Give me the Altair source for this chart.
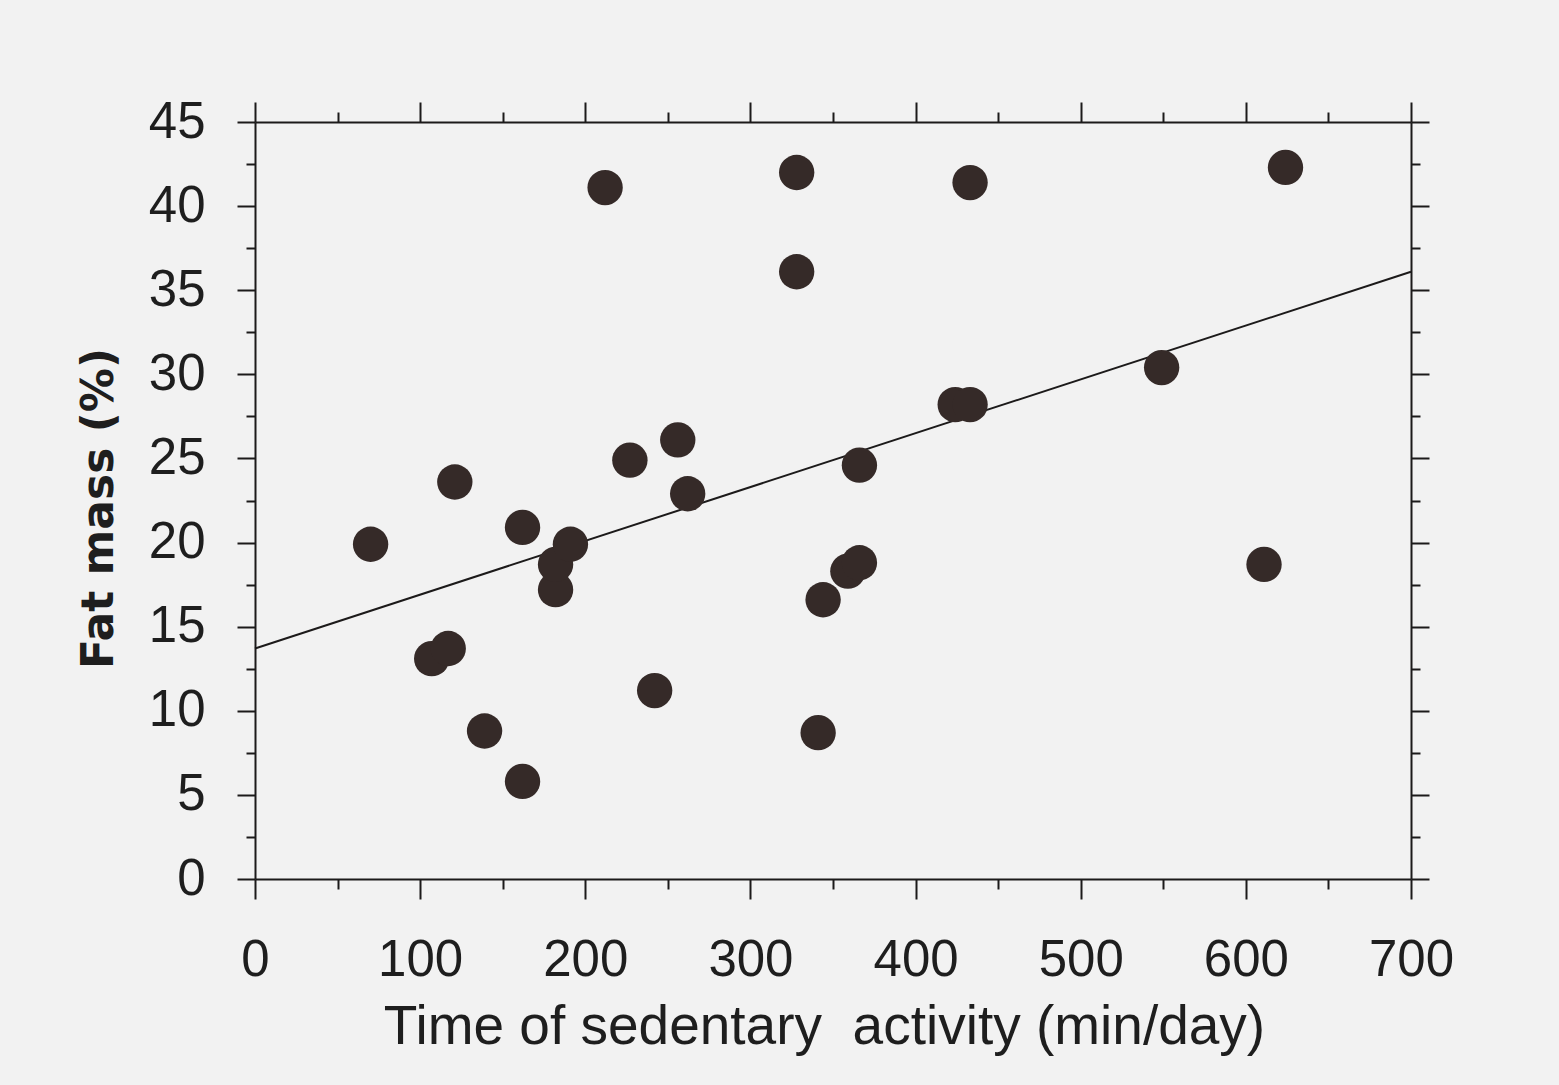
import altair as alt
import pandas as pd

# Data
sedentary_min = [70, 107, 117, 121, 139, 162, 162, 182, 182, 191, 212, 227, 242, 256,
                 262, 328, 328, 341, 344, 359, 366, 366, 424, 433, 433, 549, 611, 624]
fat_mass_pct = [19.9, 13.1, 13.7, 23.6, 8.8, 5.8, 20.9, 17.2, 18.7, 19.9, 41.1, 24.9, 11.2, 26.1,
                22.9, 42.0, 36.1, 8.7, 16.6, 18.3, 18.8, 24.6, 28.2, 28.2, 41.4, 30.4, 18.7, 42.3]

# Regression line endpoints
line_x = [0, 700]
line_y = [13.7, 36.1]

x_ticks = list(range(0, 701, 50))
y_ticks = [i * 2.5 for i in range(0, 19)]

pts = pd.DataFrame({"x": sedentary_min, "y": fat_mass_pct})
ln = pd.DataFrame({"x": line_x, "y": line_y})

INK = "#1c1a1a"
xs = alt.Scale(domain=[0, 700], nice=False, zero=False)
ys = alt.Scale(domain=[0, 45], nice=False, zero=False)

x_major = "datum.value % 100 === 0"
y_major = "datum.value % 5 === 0"

common = dict(grid=False, domainColor=INK, domainWidth=2, tickColor=INK, tickWidth=2,
              labelOverlap=False, labelFlush=False)

x_bottom = alt.Axis(
    orient="bottom", values=x_ticks,
    labelExpr=f"{x_major} ? datum.label : ''",
    tickSize={"condition": {"test": x_major, "value": 20}, "value": 10},
    labelFont="Liberation Sans", labelFontSize=51, labelColor="#1e1e1e", labelPadding=36,
    title="Time of sedentary\u00a0 activity (min/day)",
    titleFont="Liberation Sans", titleFontSize=55, titleFontWeight="normal", titleColor="#1e1e1e",
    titleX=569, titleY=164, titleBaseline="alphabetic", titleAlign="center",
    **common,
)
y_left = alt.Axis(
    orient="left", values=y_ticks,
    labelExpr=f"{y_major} ? datum.label : ''",
    tickSize={"condition": {"test": y_major, "value": 18}, "value": 9},
    labelFont="Liberation Sans", labelFontSize=51, labelColor="#1e1e1e", labelPadding=32,
    title="Fat mass (%)",
    titleFont="DejaVu Sans", titleFontSize=44, titleFontWeight="bold", titleColor="#1e1e1e",
    titleX=-143, titleY=386, titleAngle=270, titleBaseline="alphabetic", titleAlign="center",
    **common,
)
x_top = alt.Axis(
    orient="top", values=x_ticks, labels=False, title=None,
    tickSize={"condition": {"test": x_major, "value": 20}, "value": 10},
    **common,
)
y_right = alt.Axis(
    orient="right", values=y_ticks, labels=False, title=None,
    tickSize={"condition": {"test": y_major, "value": 18}, "value": 9},
    **common,
)

line = alt.Chart(ln).mark_line(color=INK, strokeWidth=2).encode(
    x=alt.X("x:Q", scale=xs, axis=x_top),
    y=alt.Y("y:Q", scale=ys, axis=y_right),
)

points = alt.Chart(pts).mark_circle(size=1250, color="#352a28", opacity=1).encode(
    x=alt.X("x:Q", scale=xs, axis=x_bottom),
    y=alt.Y("y:Q", scale=ys, axis=y_left),
)

chart = alt.layer(line, points).resolve_axis(
    x="independent", y="independent"
).properties(
    width=1156, height=757,
    padding={"left": 255, "top": 122, "right": 148, "bottom": 206},
    autosize=alt.AutoSizeParams(type="none"),
    background="#f2f2f2",
).configure_view(strokeOpacity=0)

chart.save("out.html", embed_options={"renderer": "svg", "actions": False})
